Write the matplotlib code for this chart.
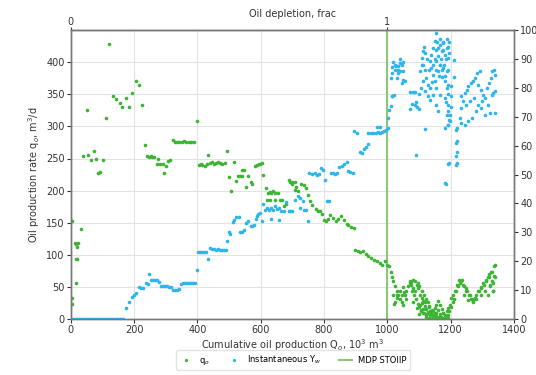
import matplotlib
matplotlib.use("Agg")
import matplotlib.pyplot as plt

# oil production rate q_o (m3/d) vs cumulative production (10^3 m3)
qo_x = [3, 4, 5, 12, 15, 19, 22, 31, 18, 21, 16,
        50, 39, 56, 73, 64, 81, 102, 87, 93, 111, 122,
        133, 143, 154, 163, 174, 184, 195, 205, 216, 226,
        235, 241, 247, 252, 257, 262, 271, 277, 283, 291, 294, 300, 306, 313,
        323, 329, 336, 342, 350, 358, 365, 372, 380, 388,
        399, 404, 410, 416, 423, 429, 435, 441, 447, 453, 459, 466, 472, 479, 486,
        495, 499, 507, 515, 521, 528, 535, 540, 540, 548, 554, 560, 568, 574,
        581, 587, 593, 599, 605, 607, 616, 622, 628, 634, 640, 646, 656, 619, 628, 644, 660, 666, 673, 679,
        688, 694, 700, 707, 698, 707, 711, 719, 727, 736, 742,
        749, 756, 763, 774, 780, 787, 793,
        799, 807, 814, 820, 828, 837, 845, 854, 862, 871, 877, 885, 894,
        898, 906, 915, 923, 932, 940, 948, 957, 967, 976, 982, 993, 999,
        1005, 1010, 1014, 1018, 1023, 1029, 1034, 1039, 1045, 1050, 1018, 1023, 1029, 1020, 1030,
        1039, 1047, 1054, 1059, 1049, 1055, 1060, 1065, 1070, 1071, 1075, 1076, 1078, 1080, 1081,
        1081, 1083, 1086, 1087, 1091, 1092, 1092, 1096, 1096, 1097, 1100, 1101, 1101, 1102, 1102,
        1107, 1108, 1109, 1111, 1112, 1113, 1117, 1118, 1121, 1122, 1122, 1123, 1128, 1129, 1132,
        1133, 1134, 1139, 1141, 1144, 1149, 1150, 1150, 1154, 1155, 1159, 1160, 1166, 1166, 1170,
        1171, 1175, 1176, 1181, 1183, 1187, 1191, 1192, 1196, 1197, 1201, 1202, 1206, 1208, 1212,
        1213, 1217, 1221, 1222, 1225, 1228, 1232, 1236, 1239, 1242, 1243, 1247, 1249, 1253, 1255,
        1257, 1260, 1264, 1266, 1271, 1272, 1276, 1280, 1281, 1287, 1289, 1295, 1296, 1297, 1301,
        1305, 1308, 1310, 1313, 1317, 1318, 1320, 1322, 1323, 1325, 1328, 1329, 1329, 1333, 1333,
        1334, 1337, 1338, 1339, 1341,
        1105, 1115, 1125, 1135, 1145, 1155, 1165, 1175, 1185, 1190, 1140, 1160, 1130, 1110, 1120]
qo_y = [23, 33, 153, 118, 117, 113, 118, 140, 93, 93, 57,
        325, 254, 256, 261, 247, 250, 248, 228, 229, 313, 428,
        347, 342, 337, 330, 344, 330, 352, 371, 365, 334,
        271, 254, 253, 254, 252, 253, 242, 249, 242, 241, 228, 239, 246, 247,
        279, 275, 275, 275, 276, 277, 275, 276, 276, 275,
        309, 240, 241, 240, 239, 241, 255, 243, 244, 242, 243, 244, 243, 242, 243,
        262, 221, 200, 245, 215, 222, 222, 222, 232, 232, 206, 222, 213, 210,
        239, 240, 241, 242, 243, 224, 204, 197, 198, 196, 199, 197, 196, 186, 185, 186, 185, 185, 176, 179,
        217, 213, 210, 201, 214, 213, 205, 200, 211, 209, 204,
        193, 184, 177, 172, 169, 169, 163,
        155, 152, 156, 162, 157, 153, 156, 160, 154, 148, 147, 144, 142,
        108, 106, 104, 106, 102, 98, 95, 92, 90, 87, 84, 90, 85,
        82, 74, 66, 59, 51, 43, 38, 32, 27, 22, 38, 27, 33, 24, 38,
        43, 38, 42, 32, 50, 38, 43, 52, 56, 59, 58, 53, 43, 61, 48,
        27, 38, 60, 43, 32, 53, 17, 56, 23, 48, 8, 52, 19, 38, 22,
        14, 33, 44, 15, 9, 28, 38, 20, 6, 4, 32, 15, 27, 11, 2,
        19, 7, 9, 14, 13, 9, 18, 4, 5, 22, 3, 28, 22, 3, 4,
        15, 9, 9, 7, 3, 13, 7, 17, 12, 22, 19, 33, 27, 38, 32,
        43, 43, 53, 52, 61, 56, 59, 61, 53, 38, 52, 48, 43, 43, 29,
        38, 38, 32, 32, 28, 27, 33, 32, 38, 43, 43, 38, 50, 48, 56,
        53, 43, 61, 59, 65, 38, 65, 70, 53, 52, 74, 59, 74, 56, 43,
        43, 67, 82, 84, 65,
        12, 10, 8, 12, 6, 10, 8, 2, 5, 1, 1, 14, 20, 25, 26]

# instantaneous water cut Y_w (%) vs cumulative production
yw_x = [0, 5, 10, 15, 20, 25, 30, 35, 40, 45, 50, 55, 60, 65, 70, 75, 80,
        85, 90, 95, 100, 105, 110, 115, 120, 125, 130, 135, 140, 145, 150, 155, 160, 165,
        174, 183, 193, 201, 207, 214, 222, 228, 237, 243, 247, 253, 260, 266, 273, 279,
        285, 292, 298, 304, 311, 317, 323, 329, 336, 342, 349, 355, 362, 368, 374, 380, 386, 392,
        399, 403, 409, 415, 421, 428, 435, 441, 447, 453, 460, 466, 472, 478, 484, 490,
        494, 500, 504, 511, 517, 523, 530, 536, 542, 548, 555, 561, 568, 574, 578,
        584, 588, 592, 597, 603,
        607, 614, 620, 626, 633, 639, 645, 652, 658, 665, 673, 681, 688, 694, 700, 633, 658,
        708, 717, 725, 732, 723, 736, 744, 748,
        753, 761, 770, 778, 784, 791, 797, 803, 810, 816, 822, 829, 835, 841, 847, 856, 864, 871,
        875, 883, 890,
        895, 903, 913, 919, 926, 932, 938, 938, 947, 955, 963, 970, 976, 982, 988, 995, 1001, 967, 978,
        1003, 1005, 1010, 1014, 1016, 1022,
        1010, 1016, 1024, 1033, 1041, 1048, 1035, 1014, 1024, 1018, 1027, 1034, 1039, 1045, 1050,
        1041, 1031, 1050, 1056, 1045,
        1073, 1080, 1086, 1071, 1077, 1086, 1090, 1094, 1100, 1090,
        1155, 1150, 1144, 1111, 1108, 1113, 1104, 1118, 1123, 1113, 1129, 1118, 1129, 1134, 1139,
        1134, 1139, 1144, 1150, 1155, 1160, 1166, 1171, 1176, 1181, 1187, 1192, 1155, 1166, 1176,
        1187, 1160, 1171, 1181, 1192, 1144, 1166, 1181, 1192, 1155, 1160, 1187, 1192, 1181, 1119,
        1192, 1181,
        1150, 1155, 1160, 1165, 1170, 1175, 1180, 1185, 1190, 1195, 1152, 1162, 1172, 1182, 1192,
        1157, 1167, 1177, 1187, 1195, 1145, 1140, 1135, 1130, 1125, 1120, 1115, 1110, 1105, 1100,
        1188, 1193, 1190, 1185, 1195, 1190,
        1184, 1218, 1194, 1219, 1219, 1217, 1219, 1217, 1219, 1217, 1211, 1210, 1200, 1201, 1200,
        1199, 1198,
        1229, 1234, 1239, 1232, 1244, 1250, 1255, 1263, 1271, 1276, 1284, 1291, 1287, 1295, 1302,
        1308, 1314, 1320, 1327, 1331, 1337, 1341, 1339, 1329, 1318, 1323, 1308, 1297, 1281, 1266,
        1255, 1244, 1234, 1247, 1260, 1274, 1287, 1299, 1335, 1339]
yw_y = [0, 0, 0, 0, 0, 0, 0, 0, 0, 0, 0, 0, 0, 0, 0, 0, 0,
        0, 0, 0, 0, 0, 0, 0, 0, 0, 0, 0, 0, 0, 0, 0, 0, 0,
        3.8, 5.8, 7.8, 8.4, 9.0, 11.0, 10.8, 10.8, 12.5, 12.2, 15.7, 13.4, 13.6, 13.6, 13.4, 12.9,
        11.5, 11.3, 11.5, 11.4, 11.2, 11.1, 10.1, 10.1, 10.2, 10.3, 12.0, 12.5, 12.5, 12.5, 12.5, 12.5, 12.5, 12.5,
        17.1, 23.2, 23.2, 23.3, 23.2, 23.2, 20.9, 24.5, 24.3, 24.1, 24.0, 24.1, 23.9, 23.8, 24.0, 23.8,
        27.1, 30.1, 29.5, 33.6, 34.4, 35.2, 35.2, 30.1, 30.3, 30.8, 33.2, 33.8, 32.2, 32.2, 32.6,
        34.7, 35.5, 36.3, 36.7, 34.0,
        39.8, 37.8, 38.4, 37.8, 38.4, 37.8, 39.0, 38.2, 38.4, 37.5, 37.3, 40.5, 37.5, 37.3, 37.5, 34.7, 34.4,
        41.3, 42.5, 41.9, 40.7, 38.4, 37.8, 37.8, 33.8,
        50.5, 50.2, 50.5, 49.7, 50.2, 52.2, 51.7, 48.2, 40.7, 40.7, 50.5, 50.7, 50.3, 50.5, 52.5, 53.1, 53.6, 54.3,
        51.3, 50.9, 50.5,
        65.2, 64.4, 57.8, 57.4, 58.9, 59.7, 60.6, 64.3, 64.5, 64.3, 64.5, 64.7, 64.3, 64.7, 64.9, 65.4, 66.1, 66.3, 66.5,
        69.6, 72.4, 73.6, 77.0, 77.0, 77.6,
        83.4, 85.1, 86.3, 87.4, 88.6, 89.1, 85.1, 87.1, 88.0, 89.1, 87.4, 86.3, 89.8, 88.0, 85.7,
        85.7, 83.4, 82.8, 82.2, 81.7,
        78.7, 78.7, 78.7, 72.8, 74.4, 73.9, 75.1, 73.4, 72.6, 56.9,
        99.0, 96.1, 93.8, 92.6, 90.3, 88.0, 85.7, 86.3, 83.4, 82.2, 81.1, 78.8, 77.1, 75.9, 91.5,
        89.2, 86.9, 84.6, 82.2, 79.9, 93.8, 94.9, 92.6, 95.5, 91.5, 93.8, 90.3, 89.2, 88.0, 86.9,
        85.7, 85.7, 83.9, 82.2, 81.1, 77.6, 77.6, 76.5, 74.2, 74.2, 71.9, 70.7, 67.2, 66.1, 65.8,
        53.6, 47.1,
        90.0, 93.0, 91.0, 88.0, 90.0, 93.0, 88.0, 90.0, 94.0, 92.0, 86.0, 84.0, 86.0, 84.0, 86.0,
        96.0, 97.0, 96.0, 97.0, 96.0, 88.0, 82.0, 80.0, 86.0, 90.0, 92.0, 94.0, 88.0, 80.0, 78.0,
        80.0, 78.0, 72.0, 75.0, 69.0, 67.0,
        46.7, 65.4, 54.0, 66.1, 61.5, 60.9, 57.8, 56.3, 54.0, 53.4, 89.7, 83.6, 80.5, 77.0, 73.4,
        70.5, 68.5,
        69.6, 73.0, 75.3, 77.0, 78.2, 79.3, 80.5, 81.7, 82.2, 83.4, 85.1, 85.7, 81.1, 79.3, 77.6,
        76.5, 79.9, 81.7, 83.4, 85.7, 86.3, 84.6, 78.8, 77.6, 74.2, 71.3, 70.7, 73.0, 71.9, 69.6,
        68.4, 67.2, 67.8, 74.2, 75.3, 76.5, 74.2, 75.3, 78.2, 71.3]

stoiip = 1000

green = "#3db434"
blue = "#2db5ec"

fig = plt.figure(figsize=(5.36, 3.75), dpi=100)
ax = fig.add_axes([0.132, 0.149, 0.827, 0.771])
ax2 = ax.twinx()

ax.grid(True, color="#e3e3e3", linewidth=0.8)
ax.set_axisbelow(True)

h1, = ax.plot(qo_x, qo_y, "o", color=green, ms=2.6, mew=0, label="q$_o$", zorder=3)
h2, = ax2.plot(yw_x, yw_y, "o", color=blue, ms=2.6, mew=0, label="Instantaneous Y$_w$")
h3 = ax.axvline(stoiip, color="#8dc47c", lw=1.5, label="MDP STOIIP", zorder=2)

ax.set_xlim(0, 1400)
ax.set_ylim(0, 450)
ax2.set_ylim(0, 100)
ax.set_xticks(range(0, 1401, 200))
ax.set_yticks(range(0, 401, 50))
ax2.set_yticks(range(0, 101, 10))

ax.set_xlabel("Cumulative oil production Q$_o$, 10$^3$ m$^3$", fontsize=7, color="#333333", labelpad=1)
ax.set_ylabel("Oil production rate q$_o$, m$^3$/d", fontsize=7, color="#333333", labelpad=3)

top = ax.secondary_xaxis("top", functions=(lambda x: x / 1000, lambda x: x * 1000))
top.set_xticks([0, 1])
top.set_xlabel("Oil depletion, frac", fontsize=7, color="#333333", labelpad=0)
top.tick_params(labelsize=7, colors="#333333", length=2, pad=0.5)

for a in (ax, ax2):
    a.tick_params(labelsize=7, colors="#333333", length=3, pad=1.5)
    for s in a.spines.values():
        s.set_color("#777777")
        s.set_linewidth(1.0)

fig.legend(handles=[h1, h2, h3], loc="lower center", bbox_to_anchor=(0.547, 0.002),
           ncol=3, fontsize=6, frameon=True, edgecolor="#dddddd", markerscale=0.9,
           handlelength=1.5, columnspacing=2.2, borderpad=0.4)

fig.savefig("out.png", dpi=100)
